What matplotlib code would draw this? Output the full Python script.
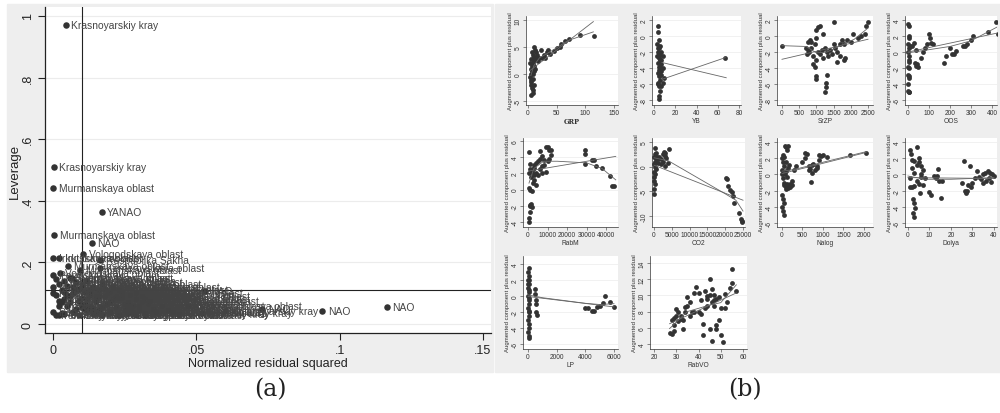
import matplotlib
matplotlib.use("Agg")
import matplotlib.pyplot as plt
from matplotlib.patches import Rectangle

plt.rcParams['font.family'] = ['Liberation Sans', 'DejaVu Sans']
plt.rcParams['axes.unicode_minus'] = False

# ---------------- Panel (a): leverage vs normalized residual squared ----------------
lab_x = [0.0045, 0.0002, 0.0000, 0.0170, 0.0005, 0.0135, 0.0106, 0.0530, 0.0940, 0.1165,
         0.0470, 0.0000, 0.0022, 0.0164, 0.0053, 0.0094, 0.0164, 0.0024, 0.0065,
         0.0600, 0.0730, 0.0520]
lab_y = [0.970, 0.510, 0.440, 0.365, 0.290, 0.262, 0.227, 0.107, 0.043, 0.055,
         0.060, 0.215, 0.215, 0.207, 0.187, 0.176, 0.181, 0.165, 0.150,
         0.042, 0.048, 0.035]
lab_names = ["Krasnoyarskiy kray", "Krasnoyarskiy kray", "Murmanskaya oblast", "YANAO",
             "Murmanskaya oblast", "NAO", "Vologodskaya oblast", "NAO", "NAO", "NAO",
             "Kaliningradskaya oblast", "Irkutskaya oblast", "Irkutskaya oblast",
             "Respublika Sakha", "Murmanskaya oblast", "Murmanskaya oblast",
             "Kemerovskaya oblast", "Vologodskaya oblast", "Tyumenskaya oblast",
             "Krasnoyarskiy kray", "NAO", "Khabarovskiy kray"]

clus_x = [0.000, 0.000, 0.001, 0.001, 0.002, 0.002, 0.003, 0.004, 0.004, 0.005,
          0.006, 0.006, 0.007, 0.008, 0.008, 0.009, 0.010, 0.010, 0.011, 0.012,
          0.013, 0.013, 0.014, 0.015, 0.016, 0.016, 0.017, 0.018, 0.019, 0.020,
          0.021, 0.022, 0.023, 0.024, 0.025, 0.026, 0.027, 0.028, 0.029, 0.030,
          0.031, 0.032, 0.033, 0.034, 0.035, 0.036, 0.038, 0.040, 0.042, 0.044,
          0.000, 0.001, 0.002, 0.003, 0.005, 0.007, 0.009, 0.011, 0.014, 0.017,
          0.020, 0.023, 0.026, 0.029, 0.032, 0.000, 0.002, 0.004, 0.012, 0.015,
          0.003, 0.005, 0.007, 0.009, 0.011, 0.013, 0.015, 0.017, 0.019, 0.021,
          0.023, 0.025, 0.027, 0.029, 0.031, 0.004, 0.008, 0.012, 0.016, 0.020,
          0.024, 0.028, 0.032, 0.006, 0.010, 0.014, 0.018, 0.022, 0.026, 0.030]
clus_y = [0.158, 0.120, 0.145, 0.095, 0.130, 0.060, 0.110, 0.140, 0.080, 0.125,
          0.150, 0.070, 0.100, 0.135, 0.050, 0.115, 0.128, 0.085, 0.105, 0.140,
          0.095, 0.060, 0.120, 0.075, 0.110, 0.045, 0.130, 0.090, 0.065, 0.105,
          0.120, 0.055, 0.085, 0.100, 0.045, 0.070, 0.095, 0.040, 0.080, 0.060,
          0.090, 0.035, 0.065, 0.075, 0.050, 0.040, 0.060, 0.045, 0.038, 0.032,
          0.040, 0.030, 0.075, 0.035, 0.095, 0.040, 0.030, 0.050, 0.035, 0.030,
          0.040, 0.028, 0.035, 0.030, 0.028, 0.100, 0.028, 0.032, 0.045, 0.035,
          0.070, 0.060, 0.120, 0.075, 0.065, 0.110, 0.090, 0.055, 0.100, 0.080,
          0.110, 0.065, 0.050, 0.100, 0.070, 0.105, 0.110, 0.080, 0.090, 0.070,
          0.085, 0.060, 0.080, 0.090, 0.055, 0.050, 0.115, 0.090, 0.055, 0.045]
clus_names = ["Permskiy kray", "Irkutskaya oblast", "Respublika Komi", "Tomskaya oblast",
              "Lipetskaya oblast", "Moskva", "Samarskaya oblast", "Kemerovskaya oblast",
              "Omskaya oblast", "Chelyabinskaya oblast", "Sverdlovskaya oblast",
              "Belgorodskaya oblast", "Tyumenskaya oblast", "Orenburgskaya oblast",
              "Sankt-Peterburg", "Respublika Tatarstan", "Khabarovskiy kray",
              "Novosibirskaya oblast", "Sakhalinskaya oblast", "Respublika Sakha",
              "Arkhangelskaya oblast", "Bashkortostan", "Magadanskaya oblast",
              "Leningradskaya oblast", "KhMAO", "Permskiy kray", "Vologodskaya oblast",
              "Irkutskaya oblast", "Tomskaya oblast", "Lipetskaya oblast",
              "Orenburgskaya oblast", "Moskva", "Chukotskiy AO", "Respublika Komi",
              "Omskaya oblast", "Samarskaya oblast", "Kemerovskaya oblast",
              "Krasnoyarskiy kray", "Sverdlovskaya oblast", "Respublika Sakha",
              "Leningradskaya oblast", "Permskiy kray", "Tyumenskaya oblast",
              "Chelyabinskaya oblast", "Khabarovskiy kray", "Belgorodskaya oblast",
              "Sakhalinskaya oblast", "Bashkortostan", "Krasnoyarskiy kray",
              "Khabarovskiy kray", "Permskiy kray", "Permskiy kray", "Arkhangelskaya oblast",
              "Moskva", "Novosibirskaya oblast", "Tomskaya oblast", "Omskaya oblast",
              "Respublika Tatarstan", "Lipetskaya oblast", "Samarskaya oblast",
              "Irkutskaya oblast", "Orenburgskaya oblast", "Krasnoyarskiy kray",
              "Chelyabinskaya oblast", "Respublika Sakha", "Kemerovskaya oblast",
              "Permskiy kray", "Sverdlovskaya oblast", "Magadanskaya oblast", "KhMAO",
              "Respublika Komi", "Tomskaya oblast", "Kemerovskaya oblast", "Moskva",
              "Samarskaya oblast", "Irkutskaya oblast", "Sverdlovskaya oblast",
              "Lipetskaya oblast", "Tyumenskaya oblast", "Omskaya oblast",
              "Chelyabinskaya oblast", "Belgorodskaya oblast", "Respublika Tatarstan",
              "Orenburgskaya oblast", "Sakhalinskaya oblast", "Leningradskaya oblast",
              "Arkhangelskaya oblast", "Khabarovskiy kray", "Novosibirskaya oblast",
              "Bashkortostan", "Sankt-Peterburg", "Permskiy kray", "Magadanskaya oblast",
              "Respublika Sakha", "Kemerovskaya oblast", "Tomskaya oblast",
              "Vologodskaya oblast", "Irkutskaya oblast", "Krasnoyarskiy kray", "Moskva"]

a_xticks = [0, 0.05, 0.1, 0.15]
a_xticklabels = ["0", ".05", ".1", ".15"]
a_yticks = [0, 0.2, 0.4, 0.6, 0.8, 1.0]
a_yticklabels = ["0", ".2", ".4", ".6", ".8", "1"]
a_vline = 0.0101
a_hline = 0.11

# ---------------- Panel (b): component-plus-residual plots ----------------
grp_x = [5, 8, 9, 7, 6, 10, 5, 8, 4, 6, 9, 11, 5, 7, 10, 12, 4, 8, 11, 6, 13, 9, 15, 7, 12,
         10, 14, 16, 18, 20, 22, 25, 28, 30, 33, 35, 38, 45, 50, 55, 57, 65, 72, 90, 115,
         6, 9, 11, 7, 8]
grp_y = [-3.8, -3.5, -3.0, -2.5, -2.0, -2.0, -1.5, -1.0, -0.5, 0.0, 0.0, 0.5, 1.0, 1.5, 1.5,
         1.0, 2.0, 2.0, 2.5, 2.8, 3.0, 3.5, 3.0, 4.0, 4.5, 5.0, 4.0, 3.5, 2.5, 3.0, 4.5, 3.0,
         3.5, 3.0, 4.0, 4.5, 3.7, 4.3, 4.8, 5.0, 5.6, 6.2, 6.5, 7.3, 7.0,
         -1.2, 1.2, 3.0, 0.5, 2.7]
grp_fit_x = [3, 114]
grp_fit_y = [0.6, 9.7]
grp_low_x = [5, 10, 20, 40, 70, 114]
grp_low_y = [-0.3, 1.5, 3.0, 4.2, 6.2, 7.8]

yb_x = [3.5, 4, 4.5, 3, 5, 6, 4, 7, 3, 5, 8, 6, 4, 7, 5, 8, 6, 4, 7, 5, 9, 6, 4, 8, 5, 6, 4.5,
        5, 3.5, 7, 67, 5, 6, 7, 4, 6, 5, 7]
yb_y = [1.2, 0.5, -0.5, -1.0, -1.5, -1.2, -2.0, -2.0, -2.5, -2.8, -2.5, -3.0, -3.3, -3.5,
        -3.8, -4.0, -4.3, -4.6, -4.8, -5.0, -5.2, -5.5, -5.8, -5.8, -6.2, -6.8, -7.5, -7.8,
        -6.0, -6.2, -2.7, -2.2, -3.8, -4.4, -1.5, -2.4, -4.2, -3.0]
yb_fit_x = [7.5, 68]
yb_fit_y = [-3.3, -5.2]
yb_low_x = [7.5, 67]
yb_low_y = [-5.4, -2.7]

srzp_x = [0, 700, 750, 800, 780, 850, 900, 950, 1000, 1050, 1100, 1000, 900, 950, 1000, 1050,
          980, 1000, 1100, 1200, 1250, 1300, 1350, 1300, 1280, 1280, 1260, 1400, 1450, 1500,
          1500, 1550, 1600, 1600, 1700, 1700, 1750, 1800, 1800, 1820, 1900, 2000, 2050, 2200,
          2300, 2400, 2450, 2500, 1150, 1200, 850, 720, 760]
srzp_y = [-1.2, -1.5, -0.8, -0.5, -2.0, -1.5, -2.5, -1.0, 0.8, 1.1, 1.3, -0.2, -3.5, -3.8,
          -3.0, -2.0, -5.0, -5.3, -2.2, 0.2, -1.5, -2.0, -2.5, -4.8, -5.8, -6.3, -7.0, -1.8,
          -2.3, 1.8, -1.0, -1.5, -2.0, -3.2, -1.0, -2.5, -0.5, -1.0, -3.0, -2.7, -0.5, -0.8,
          0.3, -0.3, 0.0, 0.3, 1.2, 1.8, -1.8, -2.8, -0.8, -2.2, -1.8]
srzp_fit_x = [0, 2500]
srzp_fit_y = [-2.9, -0.4]
srzp_low_x = [0, 700, 1000, 1300, 1700, 2100, 2500]
srzp_low_y = [-1.2, -1.3, -2.1, -2.0, -1.2, -0.4, 1.0]

oos_x = [0, 5, 3, 6, 2, 4, 0, 7, 3, 5, 0, 3, 6, 0, 3, 6, 0, 4, 8, 2, 20, 30, 40, 45, 50, 40,
         35, 60, 70, 80, 90, 100, 110, 105, 120, 170, 180, 200, 210, 220, 230, 260, 270, 280,
         300, 310, 380, 420, 430]
oos_y = [3.5, 3.3, 2.0, 1.8, 1.0, 0.5, 0.0, -0.5, -1.0, -1.2, -2.8, -3.0, -3.2, -4.8, -5.0,
         -5.0, -4.0, -2.0, 0.8, -1.8, 0.8, 1.1, 0.3, -1.5, -1.8, -1.7, -1.3, -0.8, 0.0, 0.5,
         1.0, 2.2, 1.1, 1.8, 1.0, -1.3, -0.5, 0.5, -0.3, -0.2, 0.1, 0.8, 0.8, 1.0, 1.5, 2.0,
         2.5, 3.8, 2.3]
oos_fit_x = [0, 430]
oos_fit_y = [0.0, 2.4]
oos_low_x = [0, 100, 200, 300, 430]
oos_low_y = [-0.1, 0.3, 0.7, 1.4, 3.2]

rabm_x = [500, 600, 800, 1000, 1500, 2000, 1200, 600, 1000, 2000, 1500, 2500, 3000, 500, 1000,
          2000, 3000, 4000, 5000, 4000, 6000, 7000, 3000, 1000, 500, 5000, 6000, 7000, 8000,
          9000, 10000, 11000, 12000, 12000, 6000, 8000, 9000, 10000, 11000, 7000, 4000, 3000,
          2500, 29000, 29000, 29000, 33000, 34000, 35000, 38000, 42000, 43000, 44000]
rabm_y = [-4.0, -3.5, -2.8, -2.0, -1.8, -2.2, -1.9, 0.2, 0.0, -0.2, 1.5, 0.8, 1.2, 2.0, 2.5,
          2.2, 2.7, 2.0, 1.8, 0.6, 2.5, 2.9, 3.0, 3.2, 4.6, 3.5, 3.8, 4.2, 3.6, 5.3, 5.2, 4.9,
          4.3, 4.9, 4.8, 3.0, 2.2, 3.5, 3.8, 2.0, 3.3, 1.8, 2.6, 4.9, 4.4, 3.2, 3.6, 3.6, 2.9,
          2.7, 1.7, 0.4, 0.5]
rabm_fit_x = [500, 45000]
rabm_fit_y = [2.3, 4.1]
rabm_low_x = [500, 3000, 8000, 15000, 30000, 38000, 45000]
rabm_low_y = [0.8, 2.6, 3.5, 3.5, 3.3, 2.6, 1.2]

co2_x = [0, 100, 200, 0, 100, 300, 0, 200, 100, 300, 500, 0, 200, 400, 800, 1000, 1500, 2000,
         2500, 2800, 3000, 3200, 3500, 3800, 4200, 2000, 1200, 600, 2600, 3000, 500,
         20300, 20400, 20800, 21400, 22000, 22200, 22600, 24000, 24500, 24700, 24800]
co2_y = [-5.5, -4.5, -3.5, -3.0, -2.0, -1.5, -1.0, 0.0, 0.5, 1.0, 1.5, 2.0, 2.5, 3.8, 2.0,
         1.5, 2.0, 1.5, 1.0, 3.0, 2.2, 2.8, 1.8, 0.7, 3.5, 0.5, 0.8, 2.8, 2.5, 0.2, -0.5,
         -2.2, -2.6, -4.0, -4.7, -5.2, -6.0, -7.3, -9.3, -10.7, -11.0, -11.2]
co2_fit_x = [0, 25000]
co2_fit_y = [0.3, -6.8]
co2_low_x = [0, 4000, 20000, 23000, 25000]
co2_low_y = [1.8, 1.2, -5.5, -6.8, -9.0]

nalog_x = [0, 20, 50, 10, 80, 30, 60, 100, 0, 20, 40, 10, 30, 50, 70, 100, 150, 120, 100, 150,
           100, 150, 200, 120, 60, 0, 40, 90, 130, 160, 250, 30,
           200, 250, 300, 350, 500, 550, 570, 600, 650, 680, 700, 720, 750, 800, 850, 900, 950,
           1000, 1100, 1650, 2050, 850, 900, 650, 720]
nalog_y = [2.0, 1.5, 1.0, 0.5, 0.0, -0.5, -1.0, -1.5, -2.5, -3.0, -3.5, -4.0, -4.5, -5.0, 3.5,
           3.4, 3.5, 3.0, 1.5, 0.8, -1.8, -1.7, -1.2, -1.2, 2.2, 0.0, -1.3, 0.4, -0.3, 1.2,
           -0.8, 2.4,
           -1.5, -1.3, 0.6, 1.0, 1.5, 2.0, 2.7, 2.5, 1.0, 0.7, -0.9, 0.2, 1.3, 0.5, 1.0, 2.4,
           2.3, 2.4, 2.2, 2.4, 2.6, 0.8, 1.8, 0.5, 1.2]
nalog_fit_x = [0, 2050]
nalog_fit_y = [0.1, 2.7]
nalog_low_x = [0, 300, 1000, 2050]
nalog_low_y = [0.4, 0.6, 1.5, 2.8]

dolya_x = [1, 1.5, 2, 3, 4, 5, 2, 3, 1, 4, 6, 2, 3, 5, 7, 2.5, 3, 3.5, 2.5, 3, 4, 5, 6, 7, 8,
           5.5, 1, 6, 10, 10.5, 12, 13, 13.5, 14, 14.5, 15.5, 16, 25, 26, 26.5, 27, 27.5, 28,
           29, 29.5, 30, 31, 32, 33, 34, 35, 36, 36.5, 37, 37.5, 38, 38.5, 39, 40, 35]
dolya_y = [3.0, 2.5, 1.8, 1.7, 1.2, 1.5, 0.8, 0.2, -0.5, -0.8, -0.3, -1.5, -1.4, -1.2, -1.3,
           -3.0, -3.5, -4.2, -4.8, -5.3, 3.4, 2.0, 1.0, 0.5, -0.5, -2.3, -1.5, 0.0, -2.2, -2.6,
           -0.2, -0.5, -0.2, 0.7, -0.8, -2.9, -0.8, -1.0, 1.6, -2.0, -2.3, -2.1, -1.3, 1.0,
           -1.5, -1.0, -0.5, 0.4, -0.3, -0.6, -1.0, 0.2, -0.8, 0.4, -0.5, 0.2, -0.9, 0.0,
           -0.2, 0.0]
dolya_fit_x = [0, 40]
dolya_fit_y = [-0.4, -0.5]
dolya_low_x = [0, 8, 20, 40]
dolya_low_y = [-0.2, -0.6, -0.6, -0.4]

lp_x = [50, 30, 60, 40, 70, 20, 50, 30, 60, 40, 20, 70, 50, 30, 60, 40, 20, 50, 80, 10, 90,
        100, 30, 60, 500, 520, 540, 560, 580, 600, 4000, 4200, 4500, 4600, 4800, 5000, 5200,
        5400, 5700, 6000]
lp_y = [3.5, 3.0, 2.5, 2.0, 1.5, 1.0, 0.5, 0.0, -0.5, -1.0, -1.5, -2.0, -2.5, -3.0, -3.5,
        -4.0, -4.5, -5.0, -5.2, 2.0, 0.8, -0.3, 1.5, -1.8, 0.9, 0.2, -0.5, -1.0, -2.0, -2.3,
        -1.5, -1.5, -1.9, -1.8, -1.4, -1.2, -0.8, 0.0, -0.7, -1.4]
lp_fit_x = [0, 6000]
lp_fit_y = [-0.05, -1.35]
lp_low_x = [0, 1000, 4000, 5000, 6000]
lp_low_y = [0.15, -0.2, -0.9, -1.05, -0.95]

rabvo_x = [27, 28, 29, 28, 29, 30, 30, 31, 32, 33, 33, 34, 34, 35, 36, 36, 37, 38, 38, 39, 40,
           40, 41, 42, 42, 43, 43, 44, 44, 45, 45, 45, 46, 46, 46, 47, 47, 48, 48, 48, 49, 49,
           50, 50, 51, 52, 52, 53, 54, 55, 55, 57, 31, 35, 41, 44, 47, 29, 32]
rabvo_y = [5.4, 5.2, 5.6, 6.9, 7.2, 7.5, 8.3, 7.9, 7.1, 6.9, 5.9, 8.0, 8.6, 8.7, 9.2, 7.5, 8.0,
           10.3, 7.9, 11.0, 10.3, 8.0, 7.7, 6.5, 5.1, 8.5, 10.5, 9.5, 8.7, 12.0, 10.0, 5.8,
           10.8, 9.2, 4.4, 10.0, 8.7, 9.5, 6.3, 5.8, 7.0, 9.8, 5.1, 8.5, 4.3, 8.4, 10.2, 9.2,
           10.9, 11.5, 13.2, 10.5, 6.8, 9.8, 9.4, 9.9, 9.4, 6.3, 7.5]
rabvo_fit_x = [27, 57]
rabvo_fit_y = [6.5, 10.3]
rabvo_low_x = [27, 35, 45, 50, 57]
rabvo_low_y = [5.9, 8.0, 8.8, 9.1, 11.3]

# ---------------- layout helpers ----------------
W, H = 1000.0, 414.0
fig = plt.figure(figsize=(10, 4.14), dpi=100)


def box(l, t, r, b):
    return [l / W, 1 - b / H, (r - l) / W, (b - t) / H]


BG = "#eeeeee"
fig.add_artist(Rectangle((7 / W, 1 - 373 / H), (493 - 7) / W, (373 - 5) / H,
                         transform=fig.transFigure, color=BG, zorder=0))
fig.add_artist(Rectangle((495 / W, 1 - 373 / H), (1000 - 495) / W, (373 - 5) / H,
                         transform=fig.transFigure, color=BG, zorder=0))

INK = "#333333"

# ---------- panel (a) ----------
ax = fig.add_axes(box(45, 8, 491, 334))
ax.set_facecolor("white")
for s in ["top", "right"]:
    ax.spines[s].set_visible(False)
for s in ["left", "bottom"]:
    ax.spines[s].set_color("#222222")
    ax.spines[s].set_linewidth(0.9)
ax.set_xlim(-0.0028, 0.1528)
ax.set_ylim(-0.029, 1.029)
ax.set_xticks(a_xticks)
ax.set_xticklabels(a_xticklabels, fontsize=9, color="#222222")
ax.set_yticks(a_yticks)
ax.set_yticklabels(a_yticklabels, fontsize=9, rotation=90, va="center", color="#222222")
ax.tick_params(length=5, width=0.8, color="#222222", pad=3)
for yv in a_yticks:
    ax.axhline(yv, color="#ececec", lw=0.8, zorder=0)
ax.set_xlabel("Normalized residual squared", fontsize=9, color="#222222", labelpad=1)
ax.set_ylabel("Leverage", fontsize=9.5, color="#222222", labelpad=1)
ax.axvline(a_vline, color="#222222", lw=0.8, zorder=1)
ax.axhline(a_hline, color="#222222", lw=0.8, zorder=1)

ax.scatter(clus_x, clus_y, s=22, color=INK, zorder=3, linewidths=0)
for x, y, n in zip(clus_x, clus_y, clus_names):
    ax.annotate(n, (x, y), xytext=(4, 0), textcoords="offset points", fontsize=7.4,
                color="#444444", va="center", ha="left", zorder=4)
ax.scatter(lab_x, lab_y, s=22, color=INK, zorder=3, linewidths=0)
for x, y, n in zip(lab_x, lab_y, lab_names):
    ax.annotate(n, (x, y), xytext=(4, 0), textcoords="offset points", fontsize=7.4,
                color="#444444", va="center", ha="left", zorder=4)

fig.text(270 / W, 1 - 390 / H, "(a)", fontsize=17, family="DejaVu Serif",
         ha="center", va="center", color="#222222")
fig.text(745 / W, 1 - 390 / H, "(b)", fontsize=17, family="DejaVu Serif",
         ha="center", va="center", color="#222222")

# ---------- panel (b) ----------
panels = [
    ("GRP", grp_x, grp_y, grp_fit_x, grp_fit_y, grp_low_x, grp_low_y,
     (526, 17, 618, 106), (-3.5, 157), (-5.74, 10.74), [0, 50, 100, 150], [-5, 0, 5, 10]),
    ("YB", yb_x, yb_y, yb_fit_x, yb_fit_y, yb_low_x, yb_low_y,
     (652, 17, 741, 106), (-1.9, 81.9), (-8.6, 2.5), [0, 20, 40, 60, 80], [-8, -6, -4, -2, 0, 2]),
    ("SrZP", srzp_x, srzp_y, srzp_fit_x, srzp_fit_y, srzp_low_x, srzp_low_y,
     (777, 17, 873, 106), (-145, 2645), (-8.6, 2.5), [0, 500, 1000, 1500, 2000, 2500],
     [-8, -6, -4, -2, 0, 2]),
    ("OOS", oos_x, oos_y, oos_fit_x, oos_fit_y, oos_low_x, oos_low_y,
     (905, 17, 997, 106), (-14, 424), (-6.6, 4.5), [0, 100, 200, 300, 400], [-6, -4, -2, 0, 2, 4]),
    ("RabM", rabm_x, rabm_y, rabm_fit_x, rabm_fit_y, rabm_low_x, rabm_low_y,
     (523, 139, 618, 228), (-2564, 46150), (-4.62, 6.37), [0, 10000, 20000, 30000, 40000],
     [-4, -2, 0, 2, 4, 6]),
    ("CO2", co2_x, co2_y, co2_fit_x, co2_fit_y, co2_low_x, co2_low_y,
     (652, 139, 745, 228), (-562, 25560), (-12.23, 5.81), [0, 5000, 10000, 15000, 20000, 25000],
     [-10, -5, 0, 5]),
    ("Nalog", nalog_x, nalog_y, nalog_fit_x, nalog_fit_y, nalog_low_x, nalog_low_y,
     (777, 139, 873, 228), (-122, 2220), (-6.49, 4.49), [0, 500, 1000, 1500, 2000],
     [-6, -4, -2, 0, 2, 4]),
    ("Dolya", dolya_x, dolya_y, dolya_fit_x, dolya_fit_y, dolya_low_x, dolya_low_y,
     (905, 139, 997, 228), (-1.38, 41.4), (-6.49, 4.49), [0, 10, 20, 30, 40], [-6, -4, -2, 0, 2, 4]),
    ("LP", lp_x, lp_y, lp_fit_x, lp_fit_y, lp_low_x, lp_low_y,
     (523, 257, 618, 350), (-349, 6280), (-6.6, 5.0), [0, 2000, 4000, 6000], [-6, -4, -2, 0, 2, 4]),
    ("RabVO", rabvo_x, rabvo_y, rabvo_fit_x, rabvo_fit_y, rabvo_low_x, rabvo_low_y,
     (650, 257, 747, 350), (18.2, 61.8), (3.38, 14.86), [20, 30, 40, 50, 60], [4, 6, 8, 10, 12, 14]),
]

for (name, px, py, fx, fy, lx, ly, bx, xl, yl, xt, yt) in panels:
    a = fig.add_axes(box(*bx))
    a.set_facecolor("white")
    for s in ["top", "right"]:
        a.spines[s].set_visible(False)
    for s in ["left", "bottom"]:
        a.spines[s].set_color("#333333")
        a.spines[s].set_linewidth(0.5)
    a.set_xlim(*xl)
    a.set_ylim(*yl)
    a.set_xticks(xt)
    a.set_xticklabels([str(v) for v in xt], fontsize=4.8, color="#333333")
    a.set_yticks(yt)
    a.set_yticklabels([str(v) for v in yt], fontsize=4.8, rotation=90, va="center",
                      color="#333333")
    a.tick_params(length=2, width=0.4, color="#333333", pad=1)
    for yv in yt:
        a.axhline(yv, color="#ececec", lw=0.5, zorder=0)
    a.scatter(px, py, s=12, color=INK, linewidths=0, zorder=3)
    a.plot(fx, fy, color="#666666", lw=0.6, zorder=4)
    a.plot(lx, ly, color="#666666", lw=0.6, zorder=4)
    if name == "GRP":
        a.set_xlabel(name, fontsize=4.8, family="DejaVu Serif", fontweight="bold",
                     labelpad=0.5, color="#333333")
    else:
        a.set_xlabel(name, fontsize=4.8, labelpad=0.5, color="#333333")
    a.set_ylabel("Augmented component plus residual", fontsize=4.3, labelpad=1,
                 color="#333333")

fig.savefig("out.png", dpi=100, facecolor="white")
